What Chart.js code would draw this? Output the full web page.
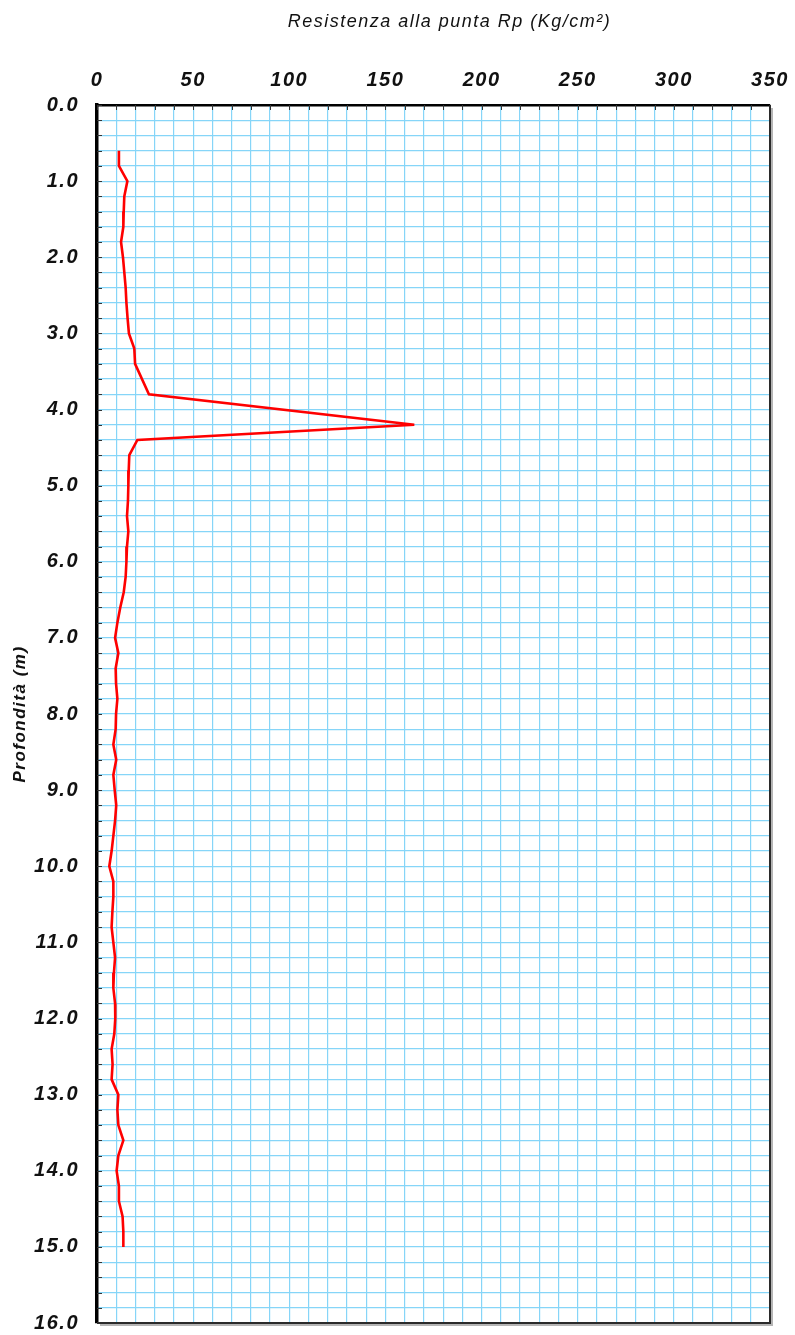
<!DOCTYPE html>
<html>
<head>
<meta charset="utf-8">
<title>Prova penetrometrica - Resistenza alla punta</title>
<script src="https://cdn.jsdelivr.net/npm/chart.js@4.4.1/dist/chart.umd.min.js"></script>
<style>
  html, body { margin: 0; padding: 0; background: #ffffff; }
  #wrap { position: relative; width: 795px; height: 1335px; }
  canvas { display: block; }
</style>
</head>
<body>
<div id="wrap"><canvas id="cpt" width="795" height="1335"></canvas></div>
<script>
// Profondità di misura (m)
const depthM = [
  0.6, 0.8, 1.0, 1.2, 1.4, 1.6, 1.8, 2.0, 2.2, 2.4,
  2.6, 2.8, 3.0, 3.2, 3.4, 3.8, 4.2, 4.4, 4.6, 4.8,
  5.0, 5.2, 5.4, 5.6, 5.8, 6.0, 6.2, 6.4, 6.6, 6.8,
  7.0, 7.2, 7.4, 7.6, 7.8, 8.0, 8.2, 8.4, 8.6, 8.8,
  9.0, 9.2, 9.4, 9.6, 9.8, 10.0, 10.2, 10.4, 10.6, 10.8,
  11.0, 11.2, 11.4, 11.6, 11.8, 12.0, 12.2, 12.4, 12.6, 12.8,
  13.0, 13.2, 13.4, 13.6, 13.8, 14.0, 14.2, 14.4, 14.6, 14.8,
  15.0
];

// Resistenza alla punta Rp (Kg/cm²)
const rpKgCm2 = [
  11.4, 11.4, 15.8, 14.2, 13.9, 13.7, 12.5, 13.5, 14.2, 14.9,
  15.3, 15.9, 16.6, 19.4, 19.8, 27.0, 165.0, 21.0, 16.8, 16.5,
  16.3, 16.1, 15.6, 16.3, 15.6, 15.3, 14.9, 13.9, 12.1, 10.6,
  9.4, 11.1, 9.7, 9.9, 10.6, 9.9, 9.7, 8.5, 10.0, 8.5,
  9.2, 10.0, 9.4, 8.5, 7.6, 6.4, 8.5, 8.5, 8.0, 7.6,
  8.5, 9.4, 8.8, 8.5, 9.4, 9.5, 9.0, 7.6, 8.1, 7.6,
  11.1, 10.6, 11.1, 13.7, 11.1, 10.2, 11.4, 11.4, 13.3, 13.7,
  13.7
];

// Valori etichettati sugli assi
const rpTickLabels = [0, 50, 100, 150, 200, 250, 300, 350];
const depthTickLabels = [0, 1, 2, 3, 4, 5, 6, 7, 8, 9, 10, 11, 12, 13, 14, 15, 16];

const headingText = 'Resistenza alla punta Rp (Kg/cm²)';
const depthAxisTitle = 'Profondità (m)';

const FONT_FAMILY = "'Liberation Sans', Arial, Helvetica, sans-serif";
const GRID_BLUE = '#86d5f8';
const TEXT_DARK = '#111111';

const points = depthM.map((d, i) => ({ x: rpKgCm2[i], y: d }));

// Spaziatura delle lettere usata in tutto il grafico
const letterSpacingPlugin = {
  id: 'letterSpacing',
  beforeDraw(chart) {
    chart.ctx.letterSpacing = '1.5px';
  }
};

// Tacche interne sugli assi, cornice destra/inferiore e intestazione
const frameAndTicksPlugin = {
  id: 'frameAndTicks',
  afterDatasetsDraw(chart) {
    const { ctx, chartArea: a, scales } = chart;
    ctx.save();
    ctx.strokeStyle = '#333333';
    ctx.lineWidth = 1;
    ctx.beginPath();
    scales.x.ticks.forEach(t => {
      const px = Math.round(scales.x.getPixelForValue(t.value)) + 0.5;
      ctx.moveTo(px, a.top);
      ctx.lineTo(px, a.top + 5);
    });
    scales.y.ticks.forEach(t => {
      const py = Math.round(scales.y.getPixelForValue(t.value)) + 0.5;
      ctx.moveTo(a.left, py);
      ctx.lineTo(a.left + 5, py);
    });
    ctx.stroke();

    // ombra della cornice
    ctx.strokeStyle = '#b5b5b5';
    ctx.lineWidth = 2;
    ctx.beginPath();
    ctx.moveTo(a.right + 2, a.top + 3);
    ctx.lineTo(a.right + 2, a.bottom + 2);
    ctx.lineTo(a.left + 3, a.bottom + 2);
    ctx.stroke();

    ctx.strokeStyle = '#2a2a2a';
    ctx.lineWidth = 2;
    ctx.beginPath();
    ctx.moveTo(a.right, a.top);
    ctx.lineTo(a.right, a.bottom);
    ctx.lineTo(a.left, a.bottom);
    ctx.stroke();
    ctx.restore();
  },
  afterDraw(chart) {
    const { ctx, chartArea: a } = chart;
    ctx.save();
    ctx.font = 'italic 18px ' + FONT_FAMILY;
    ctx.fillStyle = TEXT_DARK;
    ctx.textAlign = 'center';
    ctx.textBaseline = 'middle';
    ctx.fillText(headingText, (a.left + a.right) / 2 + 16, 22);
    ctx.restore();
  }
};

new Chart(document.getElementById('cpt'), {
  type: 'scatter',
  data: {
    datasets: [{
      data: points,
      showLine: true,
      borderColor: '#ff0000',
      backgroundColor: '#ff0000',
      borderWidth: 2.6,
      pointRadius: 0,
      pointHoverRadius: 0,
      tension: 0,
      clip: false
    }]
  },
  options: {
    responsive: false,
    animation: false,
    devicePixelRatio: 1,
    layout: { padding: { left: 0, top: 0, right: 25, bottom: 12 } },
    plugins: {
      legend: { display: false },
      tooltip: { enabled: false },
      title: { display: false }
    },
    scales: {
      x: {
        type: 'linear',
        position: 'top',
        min: 0,
        max: 350,
        afterFit(scale) {
          scale.height = 105;
          scale.paddingLeft = 0;
          scale.paddingRight = 0;
        },
        ticks: {
          stepSize: 10,
          autoSkip: false,
          maxRotation: 0,
          padding: 13,
          color: TEXT_DARK,
          font: { family: FONT_FAMILY, size: 20, weight: 'bold', style: 'italic' },
          callback: v => rpTickLabels.includes(Math.round(v)) && Math.abs(v - Math.round(v)) < 1e-6 ? String(Math.round(v)) : ''
        },
        grid: {
          color: GRID_BLUE,
          lineWidth: 1.2,
          drawTicks: false
        },
        border: { display: true, color: '#000000', width: 2.5 }
      },
      y: {
        type: 'linear',
        position: 'left',
        reverse: true,
        min: 0,
        max: 16,
        afterFit(scale) {
          scale.width = 97;
          scale.paddingTop = 0;
          scale.paddingBottom = 0;
        },
        ticks: {
          stepSize: 0.2,
          autoSkip: false,
          padding: 18,
          color: TEXT_DARK,
          font: { family: FONT_FAMILY, size: 20, weight: 'bold', style: 'italic' },
          callback: v => {
            const r = Math.round(v);
            return Math.abs(v - r) < 1e-6 && depthTickLabels.includes(r) ? r.toFixed(1) : '';
          }
        },
        grid: {
          color: GRID_BLUE,
          lineWidth: 1.2,
          drawTicks: false
        },
        border: { display: true, color: '#000000', width: 3.5 },
        title: {
          display: true,
          text: depthAxisTitle,
          color: TEXT_DARK,
          font: { family: FONT_FAMILY, size: 17, weight: 'bold', style: 'italic' },
          padding: { top: 10, bottom: 0 }
        }
      }
    }
  },
  plugins: [letterSpacingPlugin, frameAndTicksPlugin]
});
</script>
</body>
</html>
